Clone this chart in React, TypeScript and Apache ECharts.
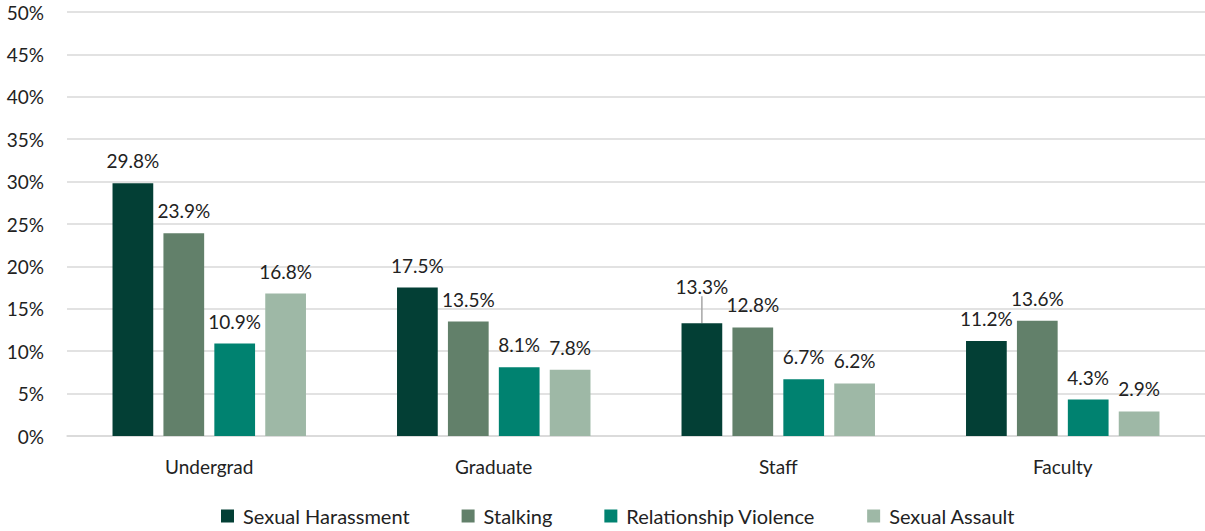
import React, { useEffect, useRef } from "react";
import * as echarts from "echarts";

const categories = ["Undergrad", "Graduate", "Staff", "Faculty"];
const seriesNames = ["Sexual Harassment", "Stalking", "Relationship Violence", "Sexual Assault"];
const harassment = [29.8, 17.5, 13.3, 11.2];
const stalking = [23.9, 13.5, 12.8, 13.6];
const relationship = [10.9, 8.1, 6.7, 4.3];
const assault = [16.8, 7.8, 6.2, 2.9];
const yTicks = [0, 5, 10, 15, 20, 25, 30, 35, 40, 45, 50];
const colors = ["#033F35", "#62806A", "#008270", "#9EB8A6"];

const FONT = "Lato";

export default function App() {
  const ref = useRef<HTMLDivElement>(null);
  useEffect(() => {
    if (!ref.current) return;
    const chart = echarts.init(ref.current, null, { renderer: "svg" });
    const values = [harassment, stalking, relationship, assault];
    chart.setOption({
      animation: false,
      backgroundColor: "#ffffff",
      textStyle: { fontFamily: FONT },
      grid: { left: 67, right: 0, top: 12, bottom: 95, containLabel: false },
      legend: {
        bottom: 0,
        left: 216,
        itemWidth: 13,
        itemHeight: 13,
        itemGap: 52,
        icon: "rect",
        textStyle: { fontFamily: FONT, fontSize: 20, color: "#222", padding: [0, 0, 0, 4] },
        data: seriesNames,
      },
      xAxis: {
        type: "category",
        data: categories,
        axisTick: { show: false },
        axisLine: { lineStyle: { color: "#D9D9D9", width: 1.5 } },
        axisLabel: { fontFamily: FONT, fontSize: 19, color: "#222", margin: 21 },
      },
      yAxis: {
        type: "value",
        min: yTicks[0],
        max: yTicks[yTicks.length - 1],
        interval: 5,
        axisLine: { show: false },
        axisTick: { show: false },
        splitLine: { lineStyle: { color: "#D9D9D9", width: 1.5 } },
        axisLabel: {
          fontFamily: FONT,
          fontSize: 19,
          color: "#222",
          margin: 23,
          formatter: (v: number) => `${v}%`,
        },
      },
      series: seriesNames.map((name, i) => ({
        name,
        type: "bar",
        data: values[i].map((v, j) =>
          i === 0 && j === 2
            ? { value: v, labelLine: { show: true, lineStyle: { color: "#A6A6A6", width: 1.5 } } }
            : v
        ),
        itemStyle: { color: colors[i] },
        barGap: "25%",
        barCategoryGap: "32%",
        label: {
          show: true,
          position: "top",
          distance: 13,
          fontFamily: FONT,
          fontSize: 19,
          color: "#222",
          formatter: (p: any) => `${Number(p.value).toFixed(1)}%`,
        },
        labelLine: { show: false },
        labelLayout: (p: any) =>
          i === 0 && p.dataIndex === 2 ? { dy: -14 } : {},
      })),
    });
    return () => chart.dispose();
  }, []);
  return (
    <div
      ref={ref}
      style={{ position: "fixed", left: 0, top: 0, width: 1205, height: 531 }}
    />
  );
}
